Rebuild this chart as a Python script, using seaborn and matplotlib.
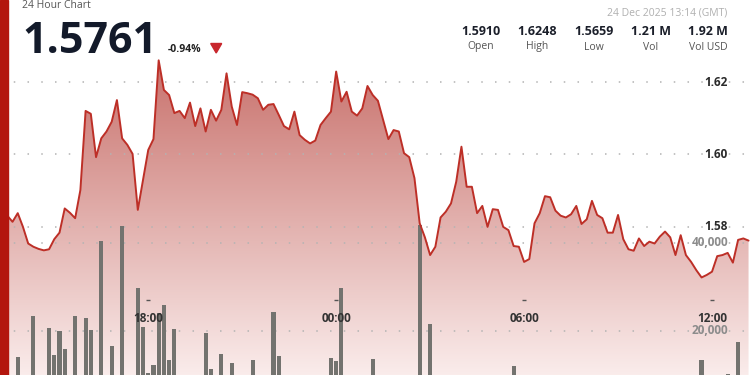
import numpy as np
import pandas as pd
import matplotlib
matplotlib.use("Agg")
import matplotlib.pyplot as plt
import seaborn as sns
from matplotlib.colors import to_rgb
from matplotlib.patches import Rectangle, Polygon
from matplotlib.transforms import blended_transform_factory as btf

# ---------------- data ----------------
start_time = "2025-12-23 13:30"
n_points = 143

price = [
    1.5830, 1.5813, 1.5837, 1.5799, 1.5753, 1.5744, 1.5738, 1.5734, 1.5737, 1.5765,
    1.5783, 1.5850, 1.5838, 1.5823, 1.5901, 1.6120, 1.6112, 1.5992, 1.6044, 1.6063,
    1.6090, 1.6150, 1.6044, 1.6026, 1.6001, 1.5846, 1.5929, 1.6012, 1.6042, 1.6260,
    1.6178, 1.6164, 1.6114, 1.6120, 1.6100, 1.6143, 1.6078, 1.6127, 1.6063, 1.6123,
    1.6093, 1.6123, 1.6224, 1.6132, 1.6081, 1.6172, 1.6169, 1.6165, 1.6155, 1.6123,
    1.6137, 1.6139, 1.6109, 1.6078, 1.6069, 1.6118, 1.6053, 1.6040, 1.6030, 1.6038,
    1.6081, 1.6100, 1.6118, 1.6229, 1.6146, 1.6173, 1.6118, 1.6107, 1.6127, 1.6189,
    1.6164, 1.6148, 1.6095, 1.6042, 1.6067, 1.6063, 1.6003, 1.5992, 1.5934, 1.5809,
    1.5770, 1.5721, 1.5744, 1.5825, 1.5841, 1.5864, 1.5924, 1.6021, 1.5910, 1.5910,
    1.5837, 1.5857, 1.5799, 1.5848, 1.5846, 1.5799, 1.5790, 1.5746, 1.5744, 1.5702,
    1.5710, 1.5809, 1.5837, 1.5884, 1.5881, 1.5844, 1.5830, 1.5825, 1.5834, 1.5857,
    1.5807, 1.5820, 1.5871, 1.5832, 1.5823, 1.5783, 1.5783, 1.5832, 1.5765, 1.5737,
    1.5733, 1.5767, 1.5746, 1.5758, 1.5753, 1.5772, 1.5786, 1.5770, 1.5721, 1.5776,
    1.5721, 1.5702, 1.5679, 1.5659, 1.5666, 1.5675, 1.5718, 1.5721, 1.5727, 1.5700,
    1.5763, 1.5767, 1.5761,
]

volume = [
    29500, 4000, 14200, 4000, 4000, 23300, 4000, 4000, 20600, 14600,
    20100, 15800, 4000, 23300, 4000, 23000, 20200, 4000, 40500, 4000,
    16700, 4000, 43900, 4000, 4000, 29700, 20800, 10400, 12300, 24000,
    25800, 13400, 20400, 4000, 4000, 4000, 4000, 4000, 19500, 11300,
    4000, 14800, 4000, 12700, 4000, 4000, 4000, 13300, 4000, 4000,
    4000, 24300, 14400, 4000, 4000, 4000, 4000, 4000, 4000, 4000,
    4000, 4000, 13900, 13200, 29700, 4000, 4000, 4000, 4000, 4000,
    13600, 4000, 4000, 4000, 4000, 4000, 4000, 4000, 4000, 44100,
    4000, 21700, 4000, 4000, 4000, 4000, 4000, 4000, 4000, 4000,
    4000, 4000, 4000, 4000, 4000, 4000, 4000, 12100, 4000, 4000,
    4000, 4000, 4000, 4000, 4000, 4000, 4000, 4000, 4000, 4000,
    4000, 4000, 4000, 4000, 4000, 4000, 4000, 4000, 4000, 4000,
    4000, 4000, 4000, 4000, 4000, 4000, 4000, 4000, 4000, 4000,
    4000, 4000, 4000, 13400, 4000, 4000, 4000, 4000, 10300, 4000,
    17400, 4000, 4000,
]

time_tick_hours = [18, 24, 30, 36]
time_tick_labels = ["18:00", "00:00", "06:00", "12:00"]
price_ticks = [1.58, 1.60, 1.62]
price_tick_labels = ["1.58", "1.60", "1.62"]
vol_ticks = [20000, 40000]
vol_tick_labels = ["20,000", "40,000"]

title_text = "24 Hour Chart"
last_price = "1.5761"
change_text = "-0.94%"
date_text = "24 Dec 2025 13:14 (GMT)"
stat_values = ["1.5910", "1.6248", "1.5659", "1.21 M", "1.92 M"]
stat_labels = ["Open", "High", "Low", "Vol", "Vol USD"]

# ---------------- setup ----------------
sns.set_theme(style="white")
plt.rcParams["font.family"] = ["Open Sans", "DejaVu Sans"]

times = pd.date_range(start_time, periods=n_points, freq="10min")
hours = (times - pd.Timestamp("2025-12-23")).total_seconds() / 3600.0
df = pd.DataFrame({"hour": np.asarray(hours), "price": price, "volume": volume})

W, H = 750, 375
XLIM = (13.267, 37.213)
PLIM = (1.5389, 1.6427)
VLIM = (10000, 95227)

fig = plt.figure(figsize=(7.5, 3.75), dpi=100)
fig.patch.set_facecolor("white")
rect = [0, 0, 1, 1]
ax_p = fig.add_axes(rect)
ax_v = fig.add_axes(rect, sharex=ax_p)
ax_l = fig.add_axes(rect, sharex=ax_p, sharey=ax_p)

# gradient area fill under price
poly = ax_p.fill_between(df["hour"], df["price"], PLIM[0], facecolor="none", edgecolor="none")
top_c = np.array(to_rgb("#bf5a54"))
bot_c = np.array(to_rgb("#faeceb"))
t = np.linspace(0, 1, 256)[:, None]
grad = (bot_c + (top_c - bot_c) * t)[:, None, :]
im = ax_p.imshow(grad, extent=[XLIM[0], XLIM[1], PLIM[0], PLIM[1]], origin="lower",
                 aspect="auto", interpolation="bilinear", zorder=1)
im.set_clip_path(poly.get_paths()[0], transform=ax_p.transData)

for p in price_ticks:
    ax_p.axhline(p, color="#b3b3b3", lw=1.1, ls=(0, (1, 8)), zorder=2)

# volume bars
for v in vol_ticks:
    ax_v.axhline(v, color="#b3b3b3", lw=1.1, ls=(0, (1, 8)), zorder=0)
sns.barplot(data=df, x="hour", y="volume", native_scale=True, ax=ax_v,
            color="#73736f", width=0.8, errorbar=None, saturation=1,
            linewidth=0, edgecolor="none", zorder=2)

# price line
sns.lineplot(data=df, x="hour", y="price", ax=ax_l, color="#bd2f27", linewidth=1.4)

for a in (ax_p, ax_v, ax_l):
    a.set_xlim(XLIM)
    a.set_axis_off()
ax_p.set_ylim(PLIM)
ax_v.set_ylim(VLIM)

# axis labels inside plot
tp = btf(ax_l.transAxes, ax_l.transData)
for p, lab in zip(price_ticks, price_tick_labels):
    ax_l.text(728 / W, p, lab, transform=tp, ha="right", va="center",
              fontsize=8.5, fontweight="bold", color="#2a2a2a")
tv = btf(ax_v.transAxes, ax_v.transData)
for v, lab in zip(vol_ticks, vol_tick_labels):
    ax_v.text(728 / W, v, lab, transform=tv, ha="right", va="center",
              fontsize=8.5, fontweight="bold", color="#8c8c8c")
tt = btf(ax_l.transData, ax_l.transAxes)
for h, lab in zip(time_tick_hours, time_tick_labels):
    ax_l.text(h, 1 - 318.5 / H, lab, transform=tt, ha="center", va="center",
              fontsize=8.5, fontweight="bold", color="#333333")
ax_l.plot(time_tick_hours, [1 - 300 / H] * len(time_tick_hours), transform=tt,
          ls="none", marker="_", ms=2.2, mew=1, color="#555555")

# header
def fx(x):
    return x / W

def fy(y):
    return 1 - y / H

fig.text(fx(22.5), fy(5), title_text, ha="left", va="center", fontsize=7.5, color="#555555")
fig.text(fx(22), fy(53.3), last_price, ha="left", va="baseline", fontsize=31,
         fontweight="bold", color="#131a2a")
fig.text(fx(167.5), fy(51.7), change_text, ha="left", va="baseline", fontsize=7.5,
         fontweight="bold", color="#222222")
fig.add_artist(Polygon([[fx(210.7), fy(43.5)], [fx(221.7), fy(43.5)], [fx(216.2), fy(53)]],
                       closed=True, transform=fig.transFigure, color="#c8272d"))
fig.text(fx(727), fy(13), date_text, ha="right", va="center", fontsize=7.5, color="#b0b0b0")
for cx, val, lab in zip([481, 537, 594, 651, 708], stat_values, stat_labels):
    fig.text(fx(cx), fy(31.5), val, ha="center", va="center", fontsize=9,
             fontweight="bold", color="#1b1f2a")
    fig.text(fx(cx), fy(47), lab, ha="center", va="center", fontsize=7.5, color="#555555")

fig.add_artist(Rectangle((0, 0), 8 / W, 1, transform=fig.transFigure, color="#b3160e", zorder=10))

fig.savefig("out.png", dpi=100)
